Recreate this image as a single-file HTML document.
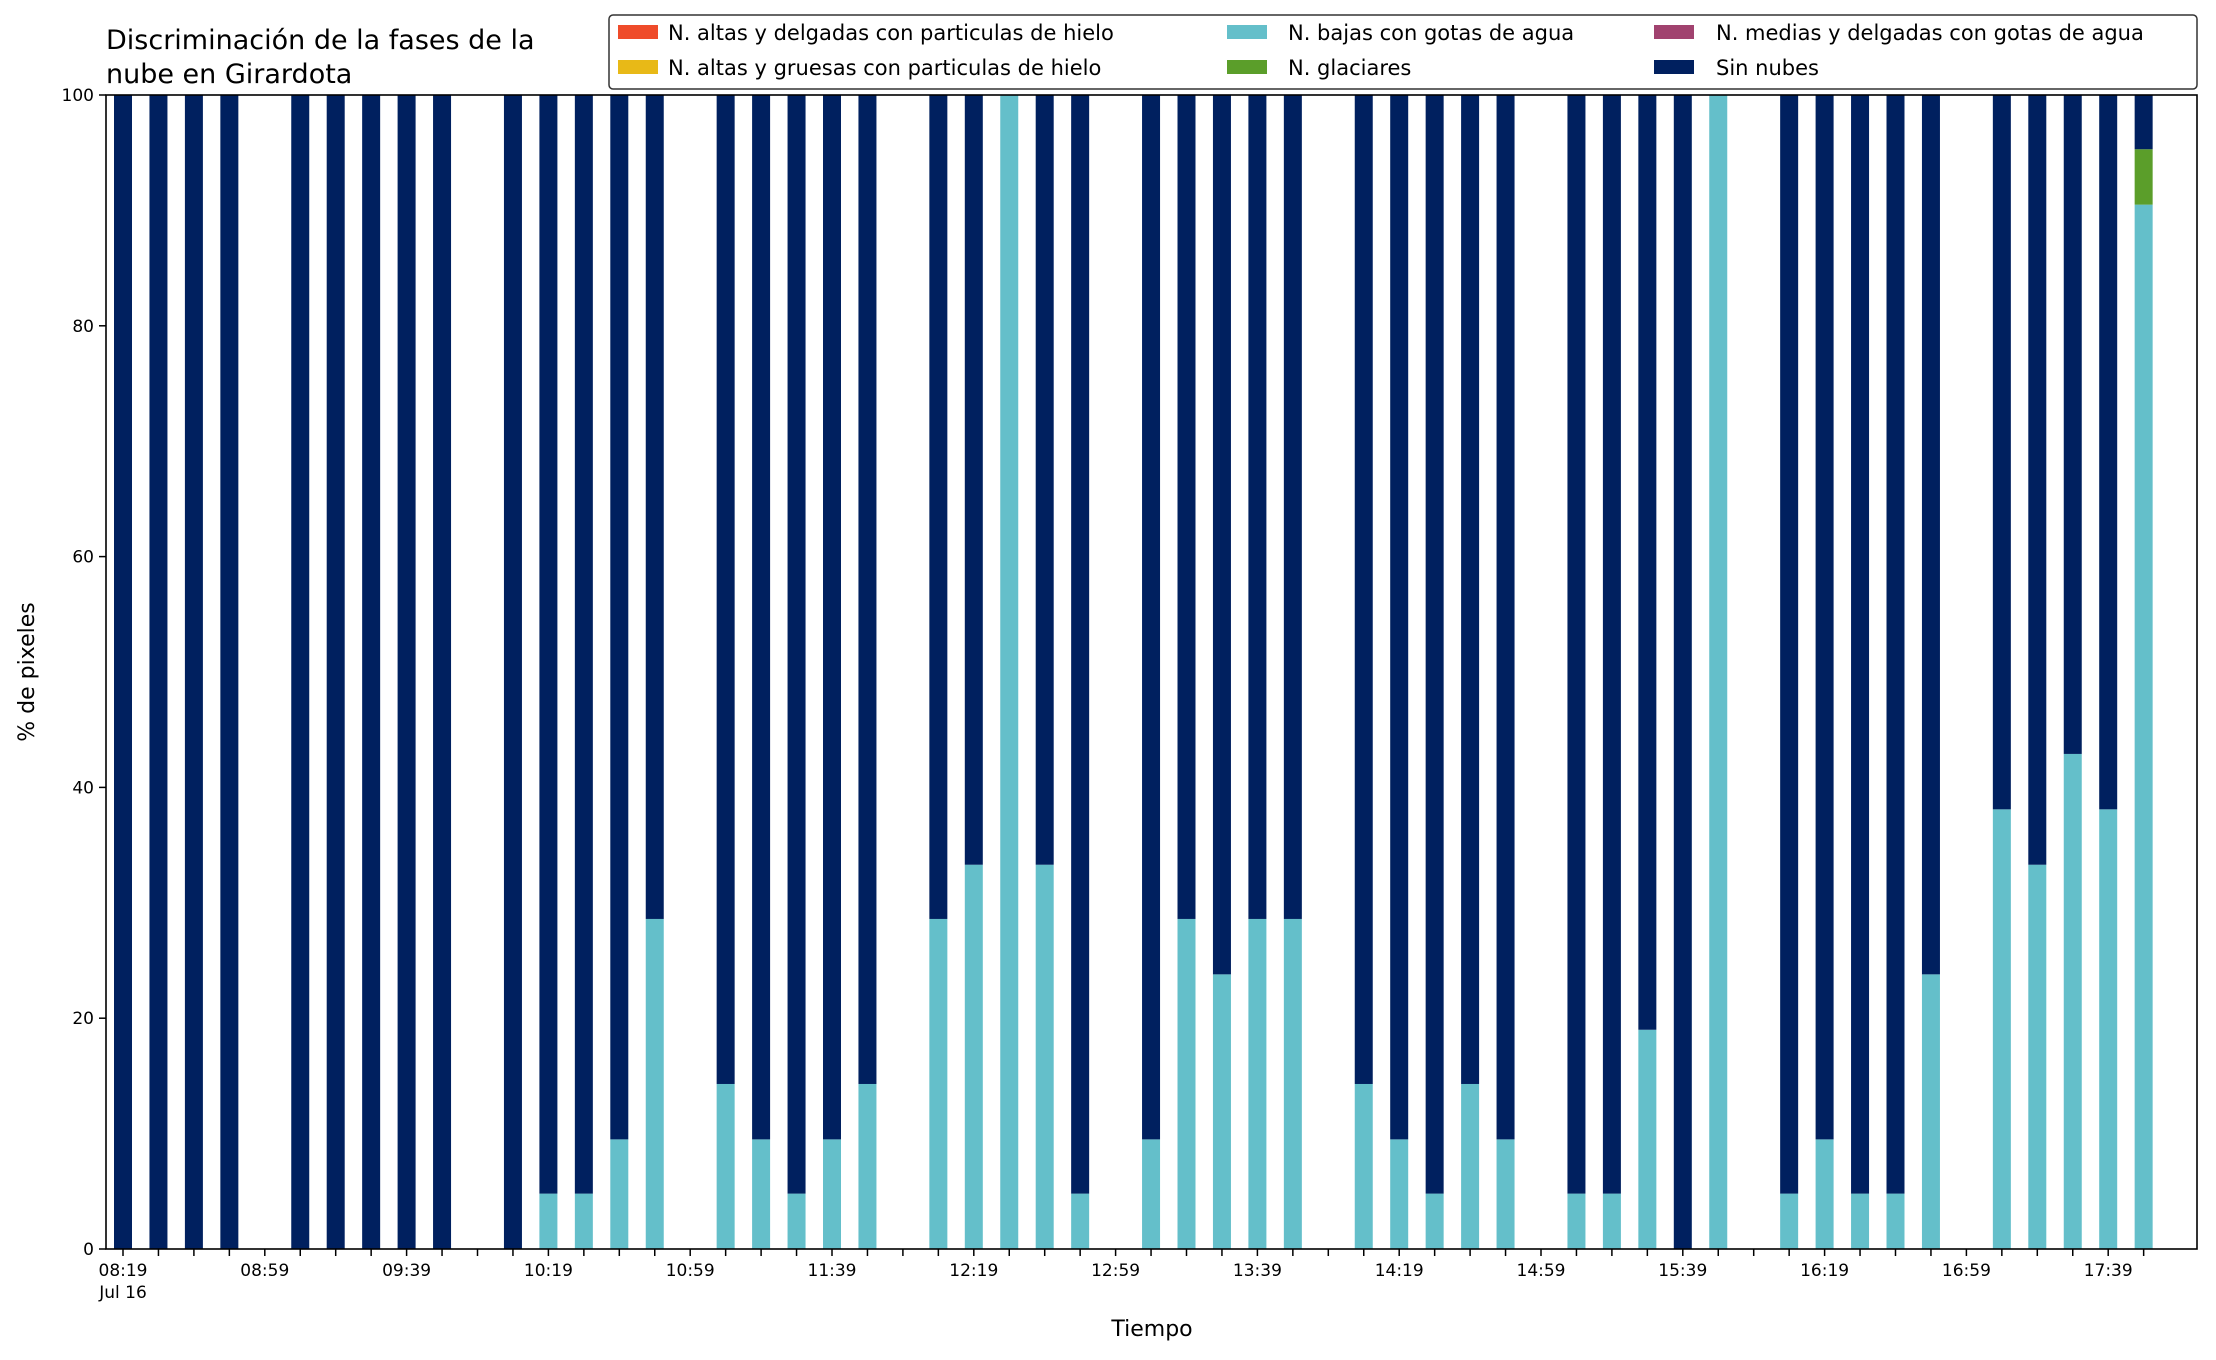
<!DOCTYPE html>
<html><head><meta charset="utf-8"><style>
html,body{margin:0;padding:0;background:#fff}
text{font-family:"DejaVu Sans","Liberation Sans",sans-serif;fill:#000}
</style></head><body>
<svg id="chart" width="2216" height="1355" viewBox="0 0 2216 1355" xmlns="http://www.w3.org/2000/svg">
<rect width="2216" height="1355" fill="#fff"/>
<text x="106" y="49" font-size="27">Discriminación de la fases de la</text>
<text x="106" y="83" font-size="27">nube en Girardota</text>
<g id="bars"></g>
<g id="axes"></g>
<rect x="106" y="95" width="2091" height="1154" fill="none" stroke="#000" stroke-width="1.6"/>
<text x="1152" y="1336" font-size="22" text-anchor="middle">Tiempo</text>
<text x="0" y="0" font-size="22" text-anchor="middle" transform="translate(34,672) rotate(-90)">% de pixeles</text>
<g>
<rect x="609" y="15" width="1588" height="74" rx="4" fill="#fff" stroke="#333" stroke-width="1.5"/>
<g><rect x="618" y="25" width="40" height="14" fill="#ef4b2a"/><text x="668" y="40" font-size="21">N. altas y delgadas con particulas de hielo</text></g>
<g><rect x="618" y="60" width="40" height="14" fill="#e8b917"/><text x="668" y="75" font-size="21">N. altas y gruesas con particulas de hielo</text></g>
<g><rect x="1227" y="25" width="40" height="14" fill="#64bfca"/><text x="1288" y="40" font-size="21">N. bajas con gotas de agua</text></g>
<g><rect x="1227" y="60" width="40" height="14" fill="#5b9e2a"/><text x="1288" y="75" font-size="21">N. glaciares</text></g>
<g><rect x="1654" y="25" width="40" height="14" fill="#a1426f"/><text x="1716" y="40" font-size="21">N. medias y delgadas con gotas de agua</text></g>
<g><rect x="1654" y="60" width="40" height="14" fill="#00205f"/><text x="1716" y="75" font-size="21">Sin nubes</text></g>
</g>
</svg>
<script>
// null = no observation
const categories = Array.from({length:58},(_, i)=>i);
const bajas = [0,0,0,0,null,0,0,0,0,0,null,0,4.8,4.8,9.5,28.6,null,14.3,9.5,4.8,9.5,14.3,null,28.6,33.3,100,33.3,4.8,null,9.5,28.6,23.8,28.6,28.6,null,14.3,9.5,4.8,14.3,9.5,null,4.8,4.8,19,0,100,null,4.8,9.5,4.8,4.8,23.8,null,38.1,33.3,42.9,38.1,90.5];
const glaciares = [0,0,0,0,null,0,0,0,0,0,null,0,0,0,0,0,null,0,0,0,0,0,null,0,0,0,0,0,null,0,0,0,0,0,null,0,0,0,0,0,null,0,0,0,0,0,null,0,0,0,0,0,null,0,0,0,0,4.8];
const yTicks = [0,20,40,60,80,100];
const xLabelIdx = [0,4,8,12,16,20,24,28,32,36,40,44,48,52,56];
const xLabels = ["08:19","08:59","09:39","10:19","10:59","11:39","12:19","12:59","13:39","14:19","14:59","15:39","16:19","16:59","17:39"];

const NS="http://www.w3.org/2000/svg";
const L=106,R=2197,T=95,B=1249;
const x0=123, step=35.45, bw=18;
const xs=i=>x0+i*step;
const ys=v=>B-(v/100)*(B-T);
function mk(tag,attrs,parent){const e=document.createElementNS(NS,tag);for(const k in attrs)e.setAttribute(k,attrs[k]);parent.appendChild(e);return e;}
const gb=document.getElementById('bars'), ga=document.getElementById('axes');
categories.forEach(i=>{
  if(bajas[i]===null) return;
  const b=bajas[i], g=glaciares[i], s=100-b-g;
  const segs=[[0,b,'#64bfca','bar-bajas'],[b,b+g,'#5b9e2a','bar-glaciares'],[b+g,100,'#00205f','bar-sin-nubes']];
  segs.forEach(([a,c,col,nm])=>{
    if(c-a<=0) return;
    const r=mk('rect',{x:xs(i)-bw/2,y:ys(c),width:bw,height:ys(a)-ys(c),fill:col},gb);
    
    
  });
});
yTicks.forEach(v=>{
  const y=ys(v);
  const l=mk('line',{x1:L-7,x2:L,y1:y,y2:y,stroke:'#000','stroke-width':1.5},ga);
  
  
  const t=mk('text',{x:L-12,y:y+6,'font-size':17,'text-anchor':'end'},ga);
  
  
  t.textContent=v;
});
categories.forEach(i=>{
  const l=mk('line',{x1:xs(i),x2:xs(i),y1:B,y2:B+7,stroke:'#000','stroke-width':1.5},ga);
  
  
});
xLabelIdx.forEach((i,k)=>{
  const t=mk('text',{x:xs(i),y:B+27,'font-size':17,'text-anchor':'middle'},ga);
  
  
  t.textContent=xLabels[k];
});
const d=mk('text',{x:xs(0),y:B+49,'font-size':17,'text-anchor':'middle'},ga);


d.textContent='Jul 16';
</script>
</body></html>
